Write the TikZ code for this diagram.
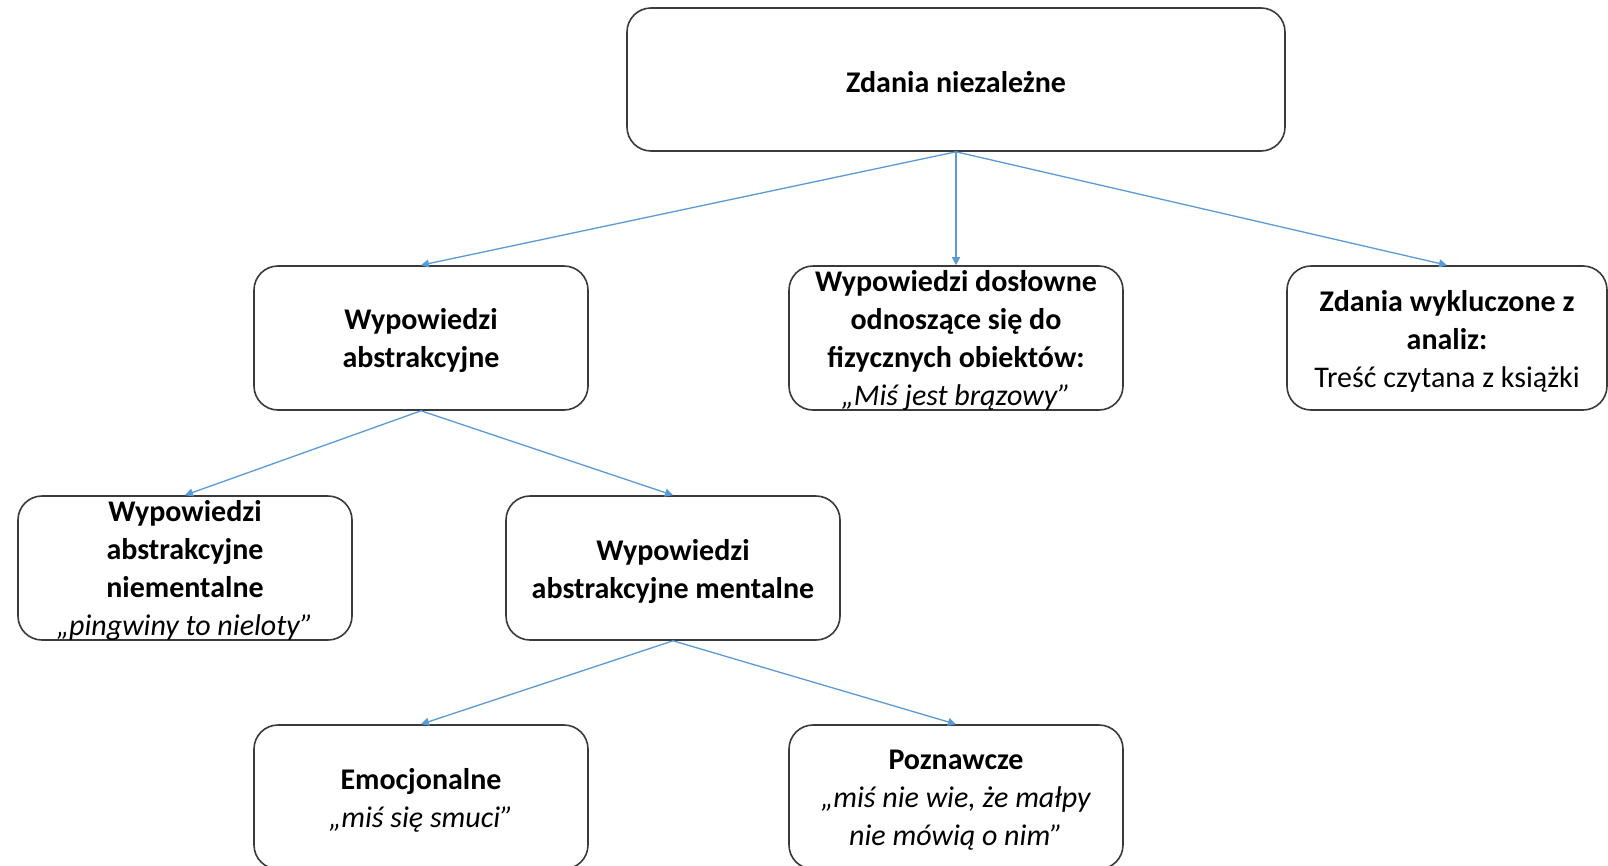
\documentclass[tikz,border=0pt]{standalone}
\usepackage{fontspec}
\setmainfont{Carlito}
\usetikzlibrary{arrows.meta}
\definecolor{boxline}{HTML}{3A3A3A}
\definecolor{arrowblue}{HTML}{5B9BD5}
\begin{document}
\begin{tikzpicture}[x=1pt,y=-1pt,
  box/.style={draw=boxline, line width=1.6pt, rounded corners=24pt,
    minimum width=334pt, minimum height=144pt, inner sep=0pt},
  txt/.style={align=center, font=\fontsize{30}{38}\selectfont, inner sep=0pt, yshift=-3pt},
  conn/.style={draw=arrowblue, line width=1.3pt, -{Triangle[length=8pt,width=8pt]}}]
\useasboundingbox (0,0) rectangle (1608,865);
\fill[white] (0,0) rectangle (1608,865);
% boxes
\node[box, minimum width=658pt, minimum height=143pt] (top) at (956,79.5) {};
\node[box] (abs) at (421,338) {};
\node[box] (dos) at (956,338) {};
\node[box, minimum width=320pt] (wyk) at (1447,338) {};
\node[box] (niem) at (185,568) {};
\node[box] (ment) at (673,568) {};
\node[box] (emo) at (421,797) {};
\node[box] (pozn) at (956,797) {};
% texts
\node[txt] (ttop) at (top.center) {\textbf{Zdania niezależne}};
\node[txt] (tabs) at (abs.center) {\textbf{Wypowiedzi}\\\textbf{abstrakcyjne}};
\node[txt] (tdos) at (dos.center) {\textbf{Wypowiedzi dosłowne}\\\textbf{odnoszące się do}\\\textbf{fizycznych obiektów:}\\\textit{„Miś jest brązowy”}};
\node[txt] (twyk) at (wyk.center) {\textbf{Zdania wykluczone z}\\\textbf{analiz:}\\Treść czytana z książki};
\node[txt] (tniem) at (niem.center) {\textbf{Wypowiedzi}\\\textbf{abstrakcyjne}\\\textbf{niementalne}\\\textit{„pingwiny to nieloty”}};
\node[txt] (tment) at (ment.center) {\textbf{Wypowiedzi}\\\textbf{abstrakcyjne mentalne}};
\node[txt] (temo) at (emo.center) {\textbf{Emocjonalne}\\\textit{„miś się smuci”}};
\node[txt] (tpozn) at (pozn.center) {\textbf{Poznawcze}\\\textit{„miś nie wie, że małpy}\\\textit{nie mówią o nim”}};
% connectors
\draw[conn] (top.south) -- (abs.north);
\draw[conn] (top.south) -- (dos.north);
\draw[conn] (top.south) -- (wyk.north);
\draw[conn] (abs.south) -- (niem.north);
\draw[conn] (abs.south) -- (ment.north);
\draw[conn] (ment.south) -- (emo.north);
\draw[conn] (ment.south) -- (pozn.north);
\end{tikzpicture}
\end{document}
